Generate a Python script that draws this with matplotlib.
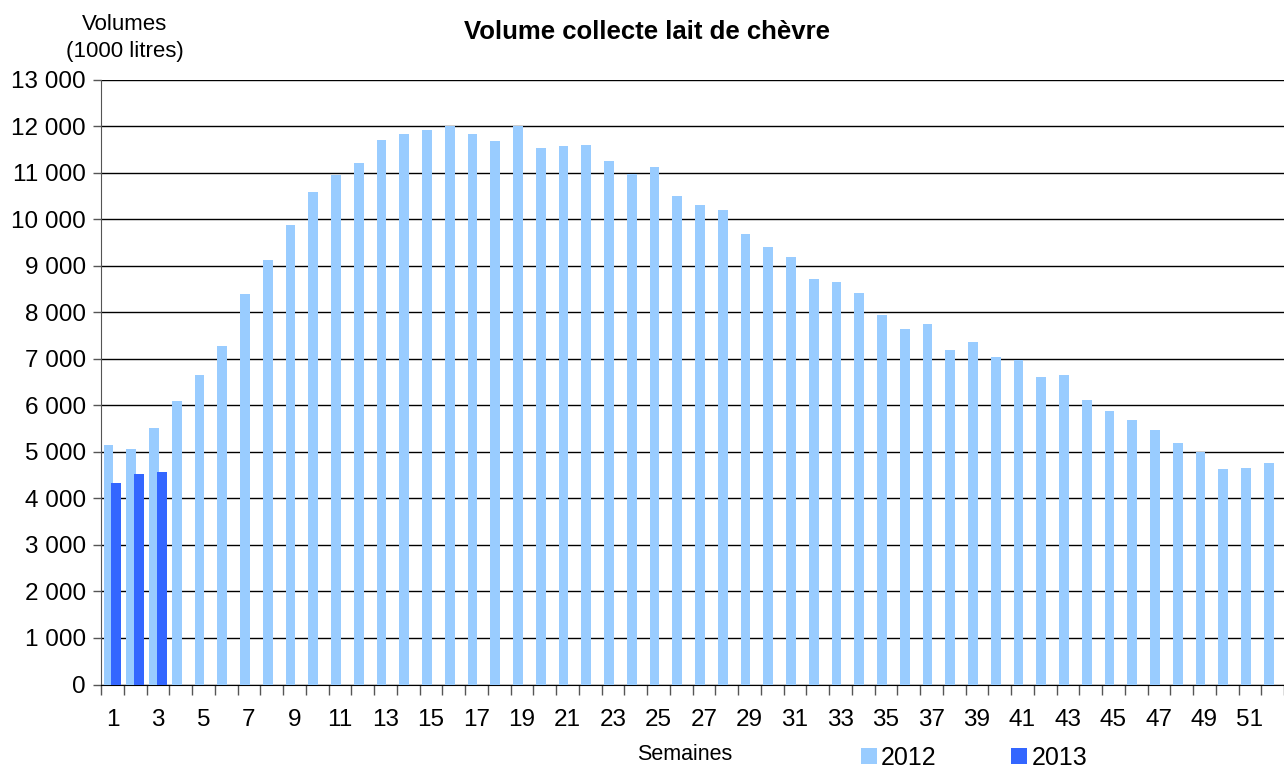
import numpy as np
import matplotlib
matplotlib.use('Agg')
import matplotlib.pyplot as plt
from matplotlib.ticker import FuncFormatter

plt.rcParams['font.family'] = ['Liberation Sans', 'DejaVu Sans']

weeks = np.arange(1, 53)
# volumes 2012 (1000 litres)
vol_2012 = [5150, 5050, 5520, 6090, 6660, 7270, 8390, 9120, 9870, 10580,
            10950, 11210, 11710, 11830, 11910, 12010, 11820, 11670, 12000, 11520,
            11580, 11590, 11250, 10980, 11130, 10500, 10310, 10190, 9690, 9400,
            9190, 8720, 8650, 8410, 7940, 7630, 7750, 7190, 7370, 7040,
            6980, 6600, 6660, 6110, 5870, 5680, 5460, 5200, 4990, 4630,
            4650, 4750]
weeks_2013 = np.array([1, 2, 3])
vol_2013 = [4340, 4520, 4560]

c2012 = '#99CCFF'
c2013 = '#3366FF'

fig = plt.figure(figsize=(12.84, 7.69), dpi=100)
ax = fig.add_axes([101 / 1284, 84.5 / 769, 1183 / 1284, 605 / 769])

w = 0.42
ax.bar(weeks - 0.17, vol_2012, width=w, color=c2012, zorder=3, label='2012')
ax.bar(weeks_2013 + 0.17, vol_2013, width=w, color=c2013, zorder=3, label='2013')

ax.set_xlim(0.5, 52.16)
ax.set_ylim(0, 13000)
ax.set_yticks(np.arange(0, 13001, 1000))
ax.yaxis.set_major_formatter(FuncFormatter(lambda v, p: f'{int(v):,}'.replace(',', ' ')))
ax.grid(axis='y', color='black', linewidth=1, zorder=0)

# labels every other week, tick marks between categories
ax.set_xticks(np.arange(1, 53, 2))
ax.set_xticks(np.arange(0.5, 53, 1), minor=True)
ax.tick_params(axis='x', which='major', length=0, pad=18, labelsize=17.5)
ax.tick_params(axis='x', which='minor', length=7, width=1, color='#555555')
ax.tick_params(axis='y', length=6, width=1, labelsize=17.5, pad=5, color='#555555')

for s in ['top', 'right']:
    ax.spines[s].set_visible(False)
ax.spines['left'].set_color('#555555')
ax.spines['bottom'].set_color('black')

fig.text(647 / 1284, 1 - 32 / 769, 'Volume collecte lait de chèvre', ha='center', va='center',
         fontsize=18.5, fontweight='bold')
fig.text(125 / 1284, 1 - 38 / 769, 'Volumes\n(1000 litres)', ha='center', va='center',
         fontsize=16, linespacing=1.4)
fig.text(685 / 1284, 1 - 754 / 769, 'Semaines', ha='center', va='center', fontsize=15.5)

fig.legend(loc='center', bbox_to_anchor=(974 / 1284, 1 - 758 / 769), ncol=2, frameon=False,
           fontsize=18, handlelength=0.64, handleheight=0.64, handletextpad=0.16,
           columnspacing=3.0, borderpad=0)

fig.savefig('out.png', dpi=100)
